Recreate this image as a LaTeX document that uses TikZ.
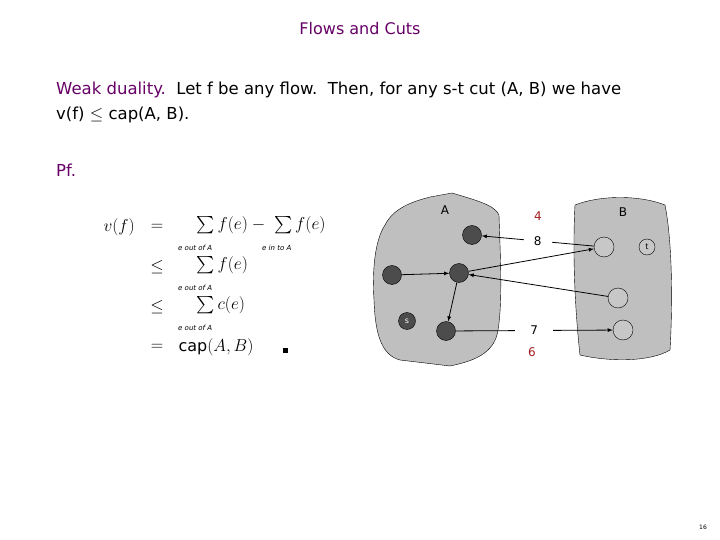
\documentclass[tikz,border=0pt]{standalone}
\usepackage{fontspec}
\setmainfont{DejaVu Sans}
\usepackage{amsmath}
\begin{document}
\begin{tikzpicture}[x=1pt,y=-1pt,
  fnode/.style={circle,draw,fill=black!70,minimum size=19pt,inner sep=0pt},
  onode/.style={circle,draw,fill=black!22,minimum size=20pt,inner sep=0pt},
  arr/.style={->,>=latex,thick},
  txt/.style={anchor=west,inner sep=0pt,font=\fontsize{16.5}{18}\selectfont},
  lab/.style={font=\fontsize{12}{14}\selectfont},
  sub/.style={anchor=west,font=\fontsize{7}{8}\selectfont\itshape,inner sep=0pt}]
\useasboundingbox (0,0) rectangle (720,540);
\definecolor{purp}{RGB}{102,0,102}
\definecolor{dred}{RGB}{160,30,30}
\node[font=\fontsize{16}{18}\selectfont,text=purp] (title) at (360,29) {Flows and Cuts};
\node[txt] (l1) at (56,90) {\textcolor{purp}{Weak duality.}\ \ Let f be any flow.\ \ Then, for any s-t cut (A, B) we have};
\node[txt] (l2) at (56,115) {v(f) $\le$ cap(A, B).};
\node[txt,text=purp] (pf) at (56,170) {Pf.};
% math
\begin{scope}[every node/.style={font=\fontsize{16}{18}\selectfont}]
\node[anchor=west] (vf) at (100,227) {$v(f)$};
\node (e1) at (157,227) {$=$};
\node[anchor=west] (s1) at (193,225) {$\sum f(e)-\ \sum f(e)$};
\node (le1) at (157,267) {$\le$};
\node[anchor=west] (s2) at (193,265) {$\sum f(e)$};
\node (le2) at (157,307) {$\le$};
\node[anchor=west] (s3) at (193,305) {$\sum c(e)$};
\node (e2) at (157,347) {$=$};
\node[anchor=west] (cap) at (175,347) {$\mathrm{cap}(A,B)$};
\node (qed) at (285,350) {\rule{5pt}{5pt}};
\end{scope}
\node[sub] (u1) at (178,248) {e out of A};
\node[sub] (u2) at (262,248) {e in to A};
\node[sub] (u3) at (178,288) {e out of A};
\node[sub] (u4) at (178,328) {e out of A};
% blobs
\path[draw,fill=black!25] (385,225) .. controls (395,205) and (420,200) .. (430,197)
  -- (452,193) .. controls (475,200) and (495,205) .. (499,215)
  .. controls (500,250) and (503,300) .. (498,330) .. controls (495,350) and (480,360) .. (450,366)
  -- (400,360) .. controls (380,355) and (375,330) .. (374,300)
  .. controls (372,270) and (375,240) .. (385,225) -- cycle;
\path[draw,fill=black!25] (575,205) .. controls (600,195) and (640,195) .. (665,205)
  .. controls (672,240) and (673,300) .. (670,350) .. controls (650,362) and (610,362) .. (580,355)
  .. controls (576,320) and (572,260) .. (575,205) -- cycle;
\node[lab] (A) at (445,210) {A};
\node[lab] (B) at (623,212) {B};
\node[lab,text=dred] (four) at (538,216) {4};
\node[lab,text=dred] (six) at (532,352) {6};
\node[fnode] (a1) at (472,235) {};
\node[fnode] (a2) at (392,275) {};
\node[fnode] (a3) at (459,273) {};
\node[fnode,minimum size=17pt,text=white,font=\fontsize{8}{9}\selectfont] (s) at (407,321) {s};
\node[fnode] (a4) at (446,331) {};
\node[onode] (b1) at (604,247) {};
\node[onode,minimum size=16pt,font=\fontsize{8}{9}\selectfont] (t) at (647,247) {t};
\node[onode] (b2) at (618,298) {};
\node[onode] (b3) at (623,330) {};
\draw[arr] (b1) -- node[fill=white,lab,inner xsep=10pt] {8} (a1);
\draw[arr] (a4) -- node[fill=white,lab,inner xsep=15pt] {7} (b3);
\draw[arr] (a2) -- (a3);
\draw[arr] (a3) -- (a4);
\draw[arr] (a3) -- (b1);
\draw[arr] (b2) -- (a3);
\node[font=\fontsize{6}{7}\selectfont] (pg) at (703,527) {16};
\end{tikzpicture}
\end{document}
